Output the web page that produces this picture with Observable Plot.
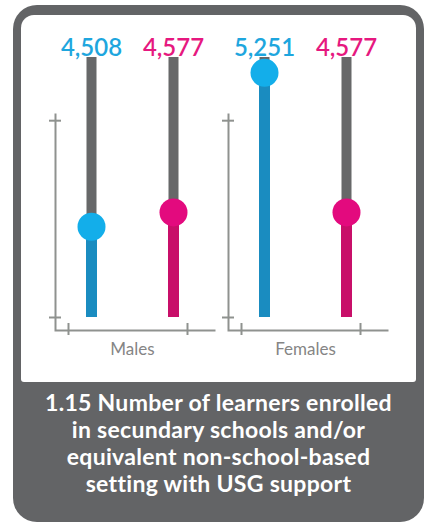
<!DOCTYPE html>
<html>
<head>
<meta charset="utf-8">
<script src="https://cdn.jsdelivr.net/npm/d3@7"></script>
<script src="https://cdn.jsdelivr.net/npm/@observablehq/plot@0.6"></script>
<style>
  html, body { margin: 0; padding: 0; background: #ffffff; }
  body { width: 426px; height: 524px; position: relative; overflow: hidden; font-family: Lato, "Open Sans", sans-serif; }
  #card { position: absolute; left: 13px; top: 5px; width: 411px; height: 517px; background: #636466; border-radius: 24px; }
  #panel { position: absolute; left: 8px; top: 10px; width: 395px; height: 367px; background: #ffffff; border-radius: 13px 13px 3px 3px; }
  #caption { position: absolute; left: 0; top: 383.5px; width: 411px; text-align: center; color: #ffffff; font-family: Lato, sans-serif; font-weight: 700; font-size: 23px; letter-spacing: 0.3px; line-height: 27px; }
  .chart { position: absolute; top: 15px; }
  #males { left: 21px; }
  #females { left: 194px; }
</style>
</head>
<body>
<div id="card">
  <div id="panel"></div>
  <div id="caption"></div>
</div>
<div id="males" class="chart"></div>
<div id="females" class="chart"></div>
<script>
// ---- data ----
const groups = ["Males", "Females"];
const slots = ["blue", "pink"];
const blueValues = [4508, 5251];
const pinkValues = [4577, 4577];
const trackMin = 4070;   // value at the bottom of each track
const trackMax = 5325;   // value at the top of each track
const axisTicks = [4070, 5020];
const captionLines = [
  "1.15 Number of learners enrolled",
  "in secundary schools and/or",
  "equivalent non-school-based",
  "setting with USG support"
];

// ---- styles ----
const barColor = {blue: "#1a8cc0", pink: "#c80f69"};
const dotColor = {blue: "#13aeea", pink: "#e30a7e"};
const textColor = {blue: "#1ea6de", pink: "#e6187f"};
const trackGray = "#676869";
const axisGray = "#8f928f";
const fmt = d3.format(",");

document.getElementById("caption").innerHTML = captionLines.join("<br>");

function panel(i) {
  const rows = [
    {slot: slots[0], value: blueValues[i]},
    {slot: slots[1], value: pinkValues[i]}
  ];
  return Plot.plot({
    width: 195,
    height: 365,
    marginLeft: 29,
    marginRight: 2,
    marginTop: 42,
    marginBottom: 63,
    style: {background: "transparent", overflow: "visible"},
    x: {type: "point", domain: slots, padding: 0.5, axis: null},
    y: {domain: [trackMin, trackMax], axis: null},
    color: {type: "identity"},
    marks: [
      Plot.frame({stroke: axisGray, strokeWidth: 2, strokeDasharray: "0 377 377",
        insetTop: 56, insetBottom: -13, insetLeft: 5, insetRight: -1}),
      Plot.tickY(axisTicks, {y: d => d, stroke: axisGray, strokeWidth: 2, insetLeft: -1, insetRight: 153}),
      Plot.tickX([slots[0]], {x: d => d, dx: -23, stroke: axisGray, strokeWidth: 2, insetTop: 266, insetBottom: -18}),
      Plot.tickX([slots[1]], {x: d => d, dx: 14, stroke: axisGray, strokeWidth: 2, insetTop: 266, insetBottom: -18}),
      Plot.ruleX(rows, {x: "slot", y1: trackMin, y2: trackMax, stroke: trackGray, strokeWidth: 10}),
      Plot.ruleX(rows, {x: "slot", y1: trackMin, y2: "value", stroke: d => barColor[d.slot], strokeWidth: 11}),
      Plot.dot(rows, {x: "slot", y: "value", r: 14, fill: d => dotColor[d.slot], stroke: null}),
      Plot.text(rows, {x: "slot", frameAnchor: "top", dy: -19, text: d => fmt(d.value),
        fill: d => textColor[d.slot], fontSize: 24, fontWeight: 600, fontFamily: "Lato, sans-serif"}),
      Plot.text([groups[i]], {frameAnchor: "bottom", dy: 37, text: d => d,
        fill: "#858585", fontSize: 17, fontFamily: "Lato, sans-serif"})
    ]
  });
}

document.getElementById("males").append(panel(0));
document.getElementById("females").append(panel(1));
</script>
</body>
</html>
